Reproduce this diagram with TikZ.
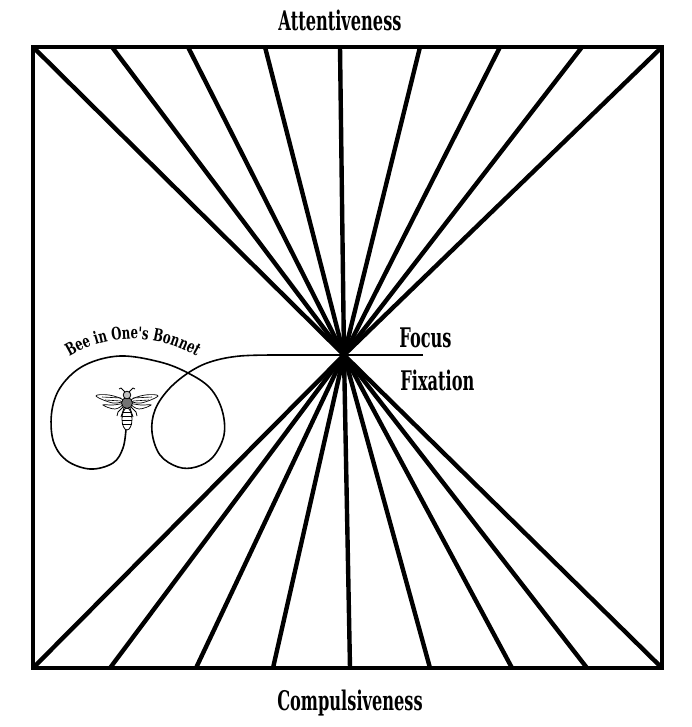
\documentclass[tikz,border=0pt]{standalone}
\usepackage{fontspec}
\usetikzlibrary{decorations.text}
\newfontfamily\signfont{DejaVu Serif}[FakeStretch=0.6]
\newfontfamily\arcfont{DejaVu Serif}[FakeStretch=0.68]
\def\bonnetfont{\arcfont\bfseries\fontsize{8.6pt}{10pt}\selectfont}
\def\wing(#1)(#2)(#3)(#4){\draw[line width=0.35pt, fill=white] plot[smooth cycle, tension=0.7] coordinates {(#1) (#2) (#3) (#4)};}

\begin{document}
\begin{tikzpicture}[x=0.5pt,y=-0.5pt]
		%%%%% START %%%%%
		
		\useasboundingbox[fill=white] (0,0) rectangle (691,727);
		\coordinate (hub) at (344,355);
		
		\draw[line width=2.4pt] (33,47) rectangle (662,668);
		
		\foreach \x in {33,112,188,265,340,420,500,582,662}
			\draw[line width=2.2pt] (\x,47) -- (hub);
		\foreach \x in {33,110,196,273,350,430,512,587,662}
			\draw[line width=2.2pt] (\x,668) -- (hub);
		
		\node[font=\signfont\bfseries\fontsize{13.5pt}{15pt}\selectfont, anchor=base] (attentive) at (340,31) {Attentiveness};
		\node[font=\signfont\bfseries\fontsize{13.5pt}{15pt}\selectfont, anchor=base] (compulsive) at (350,710) {Compulsiveness};
		\node[font=\signfont\bfseries\fontsize{13.5pt}{15pt}\selectfont, anchor=base west, inner sep=0pt] (focus) at (399,347) {Focus};
		\node[font=\signfont\bfseries\fontsize{13.5pt}{15pt}\selectfont, anchor=base west, inner sep=0pt] (fixation) at (400,390) {Fixation};
		
		\coordinate (tail) at (126,429);
		\coordinate (lineend) at (423,355);
		\draw[line width=1.2pt] (lineend) -- (281,355);
		\draw[line width=0.8pt] plot[smooth, tension=0.6] coordinates {(282,355) (240,356) (210,362) (188,373) (168,390) (155,410) (152,432) (160,455) (178,467) (196,467) (213,457) (224,435) (222,410) (210,388) (188,373) (160,362) (120,356) (85,365) (62,385) (52,410) (53,440) (66,460) (90,469) (113,463) (123,448) (tail)};
		
		\path[decorate, decoration={text along path, text align=center, text={|\bonnetfont|Bee in One's Bonnet}}] (133,463) ++(230:124) arc (230:310:124);
		
		\begin{scope}[shift={(127,403)}]
			\wing(-4,-3)(-18,-8)(-31,-7)(-14,0)
			\wing(-4,1)(-14,2)(-24,2)(-12,6)
			\wing(4,-3)(18,-8)(31,-7)(14,0)
			\wing(4,1)(14,2)(24,2)(12,6)
			\draw[line width=0.3pt] (-6,-5) -- (-25,-6) (-6,-2) -- (-22,-3) (6,-5) -- (25,-6) (6,-2) -- (22,-3);
			\draw[line width=0.4pt] (-3,3) -- (-9,9) -- (-10,13) (3,3) -- (9,9) -- (10,13) (-3,5) -- (-6,14) (3,5) -- (6,14);
			\draw[line width=0.4pt, fill=white] (0,16) ellipse (5 and 11);
			\foreach \y in {9,13,17,21}
				\draw[line width=0.35pt] (-4.6,\y) -- (4.6,\y);
			\draw[line width=0.4pt, fill=black!55] (0,0) circle (5.5);
			\draw[line width=0.4pt, fill=black!25] (0,-8) circle (3.8);
			\draw[line width=0.4pt] (-2,-11) -- (-6,-15) -- (-8,-14) (2,-11) -- (6,-15) -- (8,-14);
		\end{scope}
		
		%%%%% END %%%%%
\end{tikzpicture}
\end{document}
